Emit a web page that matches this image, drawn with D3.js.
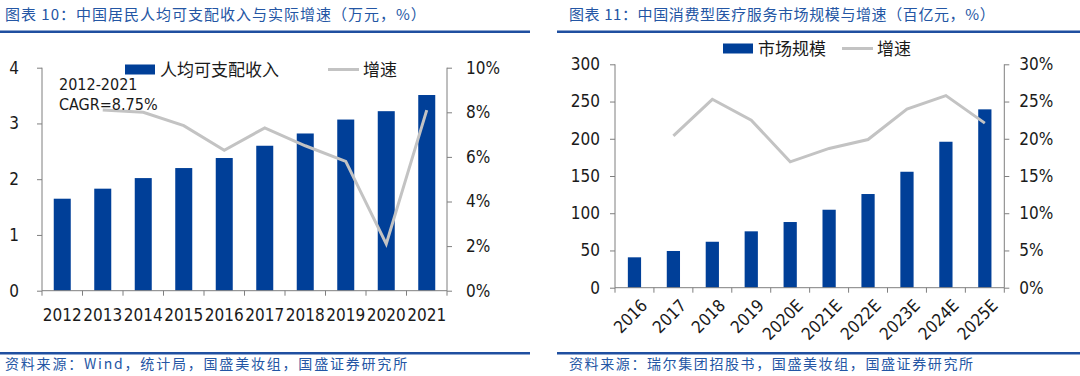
<!DOCTYPE html>
<html>
<head>
<meta charset="utf-8">
<script src="https://cdn.jsdelivr.net/npm/d3@7"></script>
<style>
  html, body { margin: 0; padding: 0; background: #fff; }
  svg { display: block; }
  .num { font-family: "DejaVu Sans Condensed", "DejaVu Sans", sans-serif; fill: #1a1a1a; }
  .cjk { font-family: "Noto Sans CJK SC", sans-serif; }
</style>
</head>
<body>
<svg id="chart" width="1080" height="376"></svg>
<script>
  // chart 10: income per capita (10k yuan) and real growth (%)
  const incomeYears = ['2012', '2013', '2014', '2015', '2016', '2017', '2018', '2019', '2020', '2021'];
  const incomeValues = [1.65, 1.83, 2.02, 2.20, 2.38, 2.60, 2.82, 3.07, 3.22, 3.51];
  const incomeGrowth = [null, 8.1, 8.0, 7.4, 6.3, 7.3, 6.5, 5.8, 2.1, 8.1];
  const incomeLeftTicks = [0, 1, 2, 3, 4];
  const incomeRightTicks = [0, 2, 4, 6, 8, 10];

  // chart 11: consumer medical service market (10bn yuan) and growth (%)
  const marketYears = ['2016', '2017', '2018', '2019', '2020E', '2021E', '2022E', '2023E', '2024E', '2025E'];
  const marketValues = [40.8, 49.3, 61.7, 75.7, 88.2, 104.7, 125.8, 155.7, 196, 239.5];
  const marketGrowth = [null, 20.4, 25.3, 22.5, 16.9, 18.7, 19.9, 24.0, 25.8, 22.1];
  const marketLeftTicks = [0, 50, 100, 150, 200, 250, 300];
  const marketRightTicks = [0, 5, 10, 15, 20, 25, 30];

  const BAR_COLOR = '#003f98';
  const LINE_COLOR = '#c3c3c3';
  const TITLE_COLOR = '#2456a4';
  const RULE_COLOR = '#1f4fa0';
  const AXIS_COLOR = '#7f7f7f';

  const svg = d3.select('#chart');

  function frame(g, title, source, x0, x1, tx, titleSpacing, sourceSpacing) {
    g.append('text').attr('class', 'cjk')
      .attr('x', tx).attr('y', 20)
      .attr('font-size', 15).attr('fill', TITLE_COLOR)
      .attr('letter-spacing', titleSpacing)
      .text(title);
    g.append('rect').attr('x', x0).attr('y', 30.5).attr('width', x1 - x0).attr('height', 2.5).attr('fill', RULE_COLOR);
    g.append('rect').attr('x', x0).attr('y', 352).attr('width', x1 - x0).attr('height', 2.5).attr('fill', RULE_COLOR);
    g.append('text').attr('class', 'cjk')
      .attr('x', tx).attr('y', 369)
      .attr('font-size', 14).attr('fill', TITLE_COLOR)
      .attr('letter-spacing', sourceSpacing)
      .text(source);
  }

  function drawCombo(opts) {
    const g = svg.append('g');
    const x = d3.scaleBand().domain(opts.cats).range([opts.left, opts.right]).paddingInner(0).paddingOuter(0);
    const yL = d3.scaleLinear().domain(d3.extent(opts.leftTicks)).range([opts.bottom, opts.top]);
    const yR = d3.scaleLinear().domain(d3.extent(opts.rightTicks)).range([opts.bottom, opts.top]);
    const bw = x.bandwidth() * opts.barRatio;

    g.selectAll('.bar')
      .data(opts.values)
      .enter()
      .append('rect')
      .attr('class', 'bar')
      .attr('x', (_, i) => x(opts.cats[i]) + (x.bandwidth() - bw) / 2)
      .attr('y', (d) => yL(d))
      .attr('width', bw)
      .attr('height', (d) => yL(0) - yL(d))
      .attr('fill', BAR_COLOR);

    const line = d3.line()
      .defined((d) => d !== null)
      .x((_, i) => x(opts.cats[i]) + x.bandwidth() / 2)
      .y((d) => yR(d));
    g.append('path')
      .datum(opts.growth)
      .attr('fill', 'none')
      .attr('stroke', LINE_COLOR)
      .attr('stroke-width', 3)
      .attr('d', line);

    const la = g.append('g')
      .attr('transform', `translate(${opts.left},0)`)
      .call(d3.axisLeft(yL).tickValues(opts.leftTicks).tickSize(5).tickPadding(opts.leftPad).tickFormat(d3.format('d')));
    const ra = g.append('g')
      .attr('transform', `translate(${opts.right},0)`)
      .call(d3.axisRight(yR).tickValues(opts.rightTicks).tickSize(5).tickPadding(opts.rightPad).tickFormat((v) => `${v}%`));
    // bottom axis, ticks sit on the band boundaries
    const bounds = d3.range(opts.cats.length + 1).map((i) => opts.left + i * x.bandwidth());
    const ba = g.append('g').attr('transform', `translate(0,${opts.bottom})`);
    ba.append('line').attr('x1', opts.left).attr('x2', opts.right).attr('stroke', AXIS_COLOR);
    ba.selectAll('.btick').data(bounds).enter().append('line')
      .attr('x1', (d) => d).attr('x2', (d) => d).attr('y1', 0).attr('y2', 5).attr('stroke', AXIS_COLOR);

    [la, ra].forEach((a) => {
      a.select('.domain').attr('stroke', AXIS_COLOR).attr('d', `M0,${opts.bottom}V${opts.top}`);
      a.selectAll('.tick line').attr('stroke', AXIS_COLOR);
      a.selectAll('.tick text').attr('class', 'num').attr('font-size', 17).attr('fill', '#1a1a1a');
    });

    const labels = ba.selectAll('.xl').data(opts.cats).enter().append('text')
      .attr('class', 'num').attr('font-size', 17);
    if (opts.rotate) {
      labels.attr('text-anchor', 'end')
        .attr('transform', (d) => `translate(${x(d) + x.bandwidth() / 2 + 14},${19}) rotate(-45)`)
        .text((d) => d);
    } else {
      labels.attr('text-anchor', 'middle')
        .attr('x', (d) => x(d) + x.bandwidth() / 2)
        .attr('y', 30)
        .text((d) => d);
    }

    const lg = g.append('g');
    lg.append('rect').attr('x', opts.legend.bx).attr('y', opts.legend.y - 5).attr('width', 30).attr('height', 10).attr('fill', BAR_COLOR);
    lg.append('text').attr('class', 'cjk').attr('x', opts.legend.bx + 35).attr('y', opts.legend.y + 6)
      .attr('font-size', 17).attr('fill', '#1a1a1a').text(opts.legend.barName);
    lg.append('line').attr('x1', opts.legend.lx).attr('x2', opts.legend.lx + 31)
      .attr('y1', opts.legend.y).attr('y2', opts.legend.y).attr('stroke', LINE_COLOR).attr('stroke-width', 3);
    lg.append('text').attr('class', 'cjk').attr('x', opts.legend.lx + 35).attr('y', opts.legend.y + 6)
      .attr('font-size', 17).attr('fill', '#1a1a1a').text('增速');
    return g;
  }

  frame(svg.append('g'), '图表 10：中国居民人均可支配收入与实际增速（万元，%）',
    '资料来源：Wind，统计局，国盛美妆组，国盛证券研究所', 0, 530, 5, 1.0, 1.8);
  frame(svg.append('g'), '图表 11：中国消费型医疗服务市场规模与增速（百亿元，%）',
    '资料来源：瑞尔集团招股书，国盛美妆组，国盛证券研究所', 557, 1080, 569, 0.6, 1.6);

  const left = drawCombo({
    cats: incomeYears, values: incomeValues, growth: incomeGrowth,
    leftTicks: incomeLeftTicks, rightTicks: incomeRightTicks,
    left: 42, right: 447, top: 67.7, bottom: 290.7, barRatio: 0.42,
    leftPad: 18, rightPad: 14, rotate: false,
    legend: { bx: 125, lx: 328, y: 69.5, barName: '人均可支配收入' }
  });
  left.append('text').attr('class', 'num').attr('x', 59).attr('y', 90).attr('font-size', 16).text('2012-2021');
  left.append('text').attr('class', 'num').attr('x', 59).attr('y', 110).attr('font-size', 16).text('CAGR=8.75%');

  drawCombo({
    cats: marketYears, values: marketValues, growth: marketGrowth,
    leftTicks: marketLeftTicks, rightTicks: marketRightTicks,
    left: 615, right: 1004.3, top: 64.3, bottom: 287.7, barRatio: 0.34,
    leftPad: 10, rightPad: 10, rotate: true,
    legend: { bx: 723, lx: 842, y: 48.5, barName: '市场规模' }
  });
</script>
</body>
</html>
